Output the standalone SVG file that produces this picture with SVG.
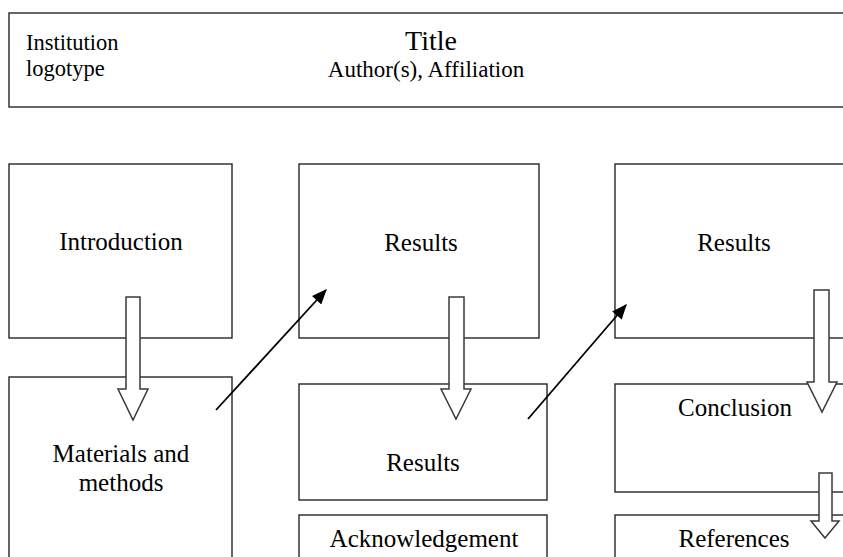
<svg xmlns="http://www.w3.org/2000/svg" width="843" height="557" viewBox="0 0 843 557">
  <style>
    .box { fill: #ffffff; stroke: #262626; stroke-width: 1.4; }
    .lbl { font-family: 'Liberation Serif', 'Times New Roman', serif; font-size: 25px; fill: #000000; text-anchor: middle; }
    .hdr { font-family: 'Liberation Serif', 'Times New Roman', serif; fill: #000000; }
    .block { fill: #ffffff; stroke: #3a3a3a; stroke-width: 1.5; stroke-linejoin: miter; }
    .link { fill: none; stroke: #000000; stroke-width: 1.8; marker-end: url(#head); }
  </style>
  <defs>
    <marker id="head" viewBox="0 0 12 10" refX="11" refY="5" markerWidth="9" markerHeight="7" orient="auto" markerUnits="strokeWidth">
      <path d="M0,0 L12,5 L0,10 Z" fill="#000000"/>
    </marker>
  </defs>

  <rect width="843" height="557" fill="#ffffff"/>

  <!-- header band -->
  <g id="header">
    <rect class="box" x="9" y="13" width="850" height="94"/>
    <text class="hdr" x="26" y="50" font-size="22.5">Institution</text>
    <text class="hdr" x="26" y="76" font-size="22.5">logotype</text>
    <text class="hdr" x="431" y="50" font-size="28" text-anchor="middle">Title</text>
    <text class="hdr" x="426" y="77" font-size="23" text-anchor="middle">Author(s), Affiliation</text>
  </g>

  <!-- column 1 -->
  <g id="introduction">
    <rect class="box" x="9" y="164" width="223" height="174"/>
    <text class="lbl" x="121" y="250">Introduction</text>
  </g>
  <g id="materials">
    <rect class="box" x="9" y="377" width="223" height="200"/>
    <text class="lbl" x="121" y="462">Materials and</text>
    <text class="lbl" x="121" y="491">methods</text>
  </g>

  <!-- column 2 -->
  <g id="results1">
    <rect class="box" x="299" y="164" width="240" height="174"/>
    <text class="lbl" x="421" y="251">Results</text>
  </g>
  <g id="results2">
    <rect class="box" x="299" y="384" width="248" height="116"/>
    <text class="lbl" x="423" y="471">Results</text>
  </g>
  <g id="acknowledgement">
    <rect class="box" x="299" y="515" width="248" height="60"/>
    <text class="lbl" x="424" y="547">Acknowledgement</text>
  </g>

  <!-- column 3 -->
  <g id="results3">
    <rect class="box" x="615" y="164" width="250" height="174"/>
    <text class="lbl" x="734" y="251">Results</text>
  </g>
  <g id="conclusion">
    <rect class="box" x="615" y="384" width="250" height="108"/>
    <text class="lbl" x="735" y="416">Conclusion</text>
  </g>
  <g id="references">
    <rect class="box" x="615" y="515" width="250" height="60"/>
    <text class="lbl" x="734" y="547">References</text>
  </g>

  <!-- connectors -->
  <g id="connectors">
    <!-- hollow block arrows -->
    <polygon class="block" points="126,297 140,297 140,389 148,389 133,420 118,389 126,389"/>
    <polygon class="block" points="449,297 464,297 464,389 471,389 456,419 441,389 449,389"/>
    <polygon class="block" points="814,290 829,290 829,382 837,382 822,412 807,382 814,382"/>
    <polygon class="block" points="819,473 832,473 832,521 839,521 825,538 811,521 819,521"/>
    <!-- diagonal pointers -->
    <line class="link" x1="216" y1="410" x2="326" y2="290"/>
    <line class="link" x1="528" y1="419" x2="626" y2="305"/>
  </g>
</svg>
